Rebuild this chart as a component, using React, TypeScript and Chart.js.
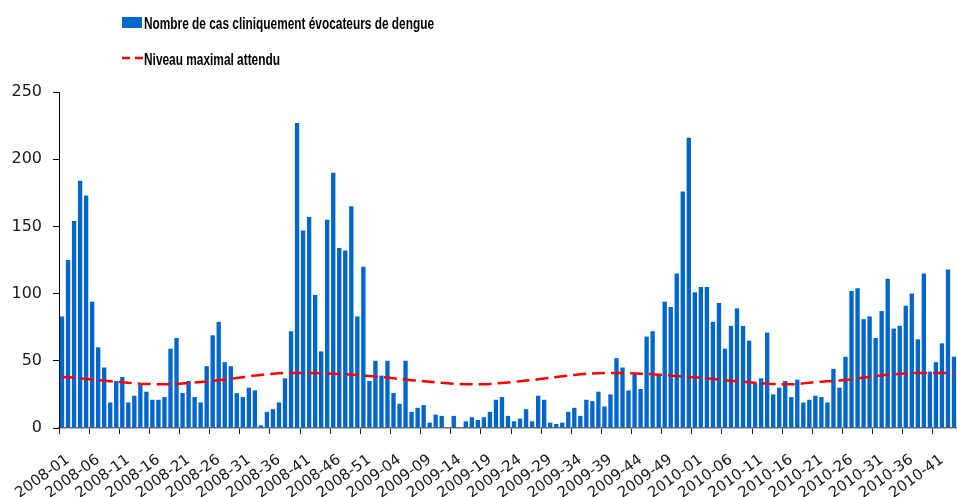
import { useEffect, useRef } from 'react';
import { Chart, registerables } from 'chart.js';

Chart.register(...registerables);

// ---- Data ----
const YEARS = [2008, 2009, 2010];
const WEEKS_SHOWN = [52, 53, 44];

const CASES_2008 = [
  83, 125, 154, 184, 173, 94, 60, 45, 19, 35,
  38, 19, 24, 32, 27, 21, 21, 23, 59, 67,
  26, 35, 23, 19, 46, 69, 79, 49, 46, 26,
  23, 30, 28, 2, 12, 14, 19, 37, 72, 227,
  147, 157, 99, 57, 155, 190, 134, 132, 165, 83,
  120, 35,
];
const CASES_2009 = [
  50, 39, 50, 26, 18, 50, 12, 15, 17, 4,
  10, 9, 0, 9, 0, 5, 8, 6, 8, 12,
  21, 23, 9, 5, 7, 14, 5, 24, 21, 4,
  3, 4, 12, 15, 9, 21, 20, 27, 16, 25,
  52, 45, 28, 40, 29, 68, 72, 40, 94, 90,
  115, 176, 216,
];
const CASES_2010 = [
  101, 105, 105, 79, 93, 59, 76, 89, 76, 65,
  33, 37, 71, 25, 30, 35, 23, 36, 19, 21,
  24, 23, 19, 44, 30, 53, 102, 104, 81, 83,
  67, 87, 111, 74, 76, 91, 100, 66, 115, 42,
  49, 63, 118, 53,
];

const EXPECTED_2008 = [
  38, 37.8, 37.5, 37, 36.5, 36, 35.6, 35.2, 34.8, 34.4,
  34, 33.6, 33.3, 33, 32.8, 32.6, 32.5, 32.5, 32.6, 32.8,
  33.1, 33.4, 33.8, 34.2, 34.6, 35, 35.5, 36, 36.6, 37.2,
  37.8, 38.4, 39, 39.5, 40, 40.4, 40.7, 40.9, 41, 41,
  41, 41, 40.9, 40.8, 40.6, 40.4, 40.2, 40, 39.7, 39.4,
  39, 38.7,
];
const EXPECTED_2009 = [
  38.4, 38, 37.5, 37, 36.5, 36, 35.6, 35.2, 34.8, 34.4,
  34, 33.6, 33.3, 33, 32.8, 32.6, 32.5, 32.5, 32.6, 32.8,
  33.1, 33.5, 33.9, 34.3, 34.8, 35.3, 35.7, 36.2, 36.8, 37.4,
  38, 38.5, 39, 39.5, 40, 40.3, 40.6, 40.8, 41, 41,
  41, 40.9, 40.8, 40.6, 40.4, 40.2, 40, 39.7, 39.4, 39,
  38.6, 38.3, 38,
];
const EXPECTED_2010 = [
  37.8, 37.4, 37, 36.5, 36, 35.6, 35.2, 34.8, 34.4, 34,
  33.6, 33.3, 33, 32.8, 32.6, 32.5, 32.5, 32.7, 33.2, 33.7,
  34.2, 34.5, 34.8, 35.1, 35.4, 35.7, 36.3, 36.9, 37.5, 38,
  38.6, 39.2, 39.6, 40, 40.3, 40.6, 40.8, 41, 41, 41,
  41, 41, 40.9, 40.8,
];

const CASES = [...CASES_2008, ...CASES_2009, ...CASES_2010];
const EXPECTED = [...EXPECTED_2008, ...EXPECTED_2009, ...EXPECTED_2010];

const CATEGORIES: string[] = [];
YEARS.forEach((year, k) => {
  for (let w = 1; w <= WEEKS_SHOWN[k]; w++) {
    CATEGORIES.push(`${year}-${String(w).padStart(2, '0')}`);
  }
});

const LABEL_CASES = 'Nombre de cas cliniquement évocateurs de dengue';
const LABEL_EXPECTED = 'Niveau maximal attendu';

const BAR_COLOR = '#0066cc';
const LINE_COLOR = '#ff0000';
const TEXT_COLOR = '#1a1a1a';
const TICK_EVERY = 5;

// Legend drawn as two stacked rows, as in the reference
const stackedLegend = {
  id: 'stackedLegend',
  afterDraw(chart: any) {
    const ctx = chart.ctx as CanvasRenderingContext2D;
    const ds = chart.data.datasets;
    ctx.save();
    ctx.fillStyle = BAR_COLOR;
    ctx.fillRect(122, 17, 20, 11);
    ctx.strokeStyle = LINE_COLOR;
    ctx.lineWidth = 2.5;
    ctx.setLineDash([8, 5]);
    ctx.beginPath();
    ctx.moveTo(122, 58);
    ctx.lineTo(143, 58);
    ctx.stroke();
    ctx.setLineDash([]);
    ctx.fillStyle = '#000';
    ctx.font = 'bold 17px "Liberation Sans", Arial, sans-serif';
    ctx.textBaseline = 'alphabetic';
    ctx.textAlign = 'left';
    ctx.fillText(ds[1].label, 144, 29, 290);
    ctx.fillText(ds[0].label, 144, 65, 136);
    ctx.restore();
  },
};

export default function App() {
  const canvasRef = useRef<HTMLCanvasElement | null>(null);

  useEffect(() => {
    if (!canvasRef.current) return;
    const chart = new Chart(canvasRef.current, {
      type: 'bar',
      data: {
        labels: CATEGORIES,
        datasets: [
          {
            type: 'line',
            label: LABEL_EXPECTED,
            data: EXPECTED,
            borderColor: LINE_COLOR,
            backgroundColor: LINE_COLOR,
            borderWidth: 2.5,
            borderDash: [13, 6],
            pointRadius: 0,
            fill: false,
            tension: 0,
            order: 0,
          } as any,
          {
            type: 'bar',
            label: LABEL_CASES,
            data: CASES,
            backgroundColor: BAR_COLOR,
            borderWidth: 0,
            categoryPercentage: 1,
            barPercentage: 0.72,
            order: 1,
          } as any,
        ],
      },
      options: {
        animation: false,
        responsive: true,
        maintainAspectRatio: false,
        layout: { padding: { top: 92, left: 0, right: 0, bottom: 0 } },
        plugins: {
          legend: { display: false },
          tooltip: { enabled: false },
        },
        scales: {
          x: {
            type: 'category',
            offset: true,
            grid: {
              offset: true,
              drawOnChartArea: false,
              drawTicks: true,
              tickLength: 6,
              lineWidth: 1,
              color: (c: any) => (c.index % TICK_EVERY === 0 ? '#222' : 'rgba(0,0,0,0)'),
            },
            border: { display: true, color: '#6e6e6e', width: 1.5 },
            ticks: {
              autoSkip: false,
              maxRotation: 36,
              minRotation: 36,
              padding: 17,
              labelOffset: 6,
              color: TEXT_COLOR,
              font: { family: '"DejaVu Sans", sans-serif', size: 15 },
              callback: (_v: any, i: number) => (i % TICK_EVERY === 0 ? CATEGORIES[i] : ''),
            },
            afterFit: (s: any) => {
              s.height = 69;
              s.paddingLeft = 0;
              s.paddingRight = 0;
            },
          },
          y: {
            min: 0,
            max: 250,
            ticks: {
              stepSize: 50,
              padding: 11,
              color: TEXT_COLOR,
              font: { family: '"DejaVu Sans", sans-serif', size: 16 },
            },
            grid: {
              drawOnChartArea: false,
              drawTicks: true,
              tickLength: 6,
              color: '#000',
            },
            border: { display: true, color: '#000', width: 1 },
            afterFit: (s: any) => {
              s.width = 59;
            },
          },
        },
      } as any,
      plugins: [stackedLegend],
    });
    return () => chart.destroy();
  }, []);

  return (
    <div style={{ position: 'fixed', left: 0, top: 0, width: 957, height: 497, background: '#fff' }}>
      <canvas ref={canvasRef} />
    </div>
  );
}
